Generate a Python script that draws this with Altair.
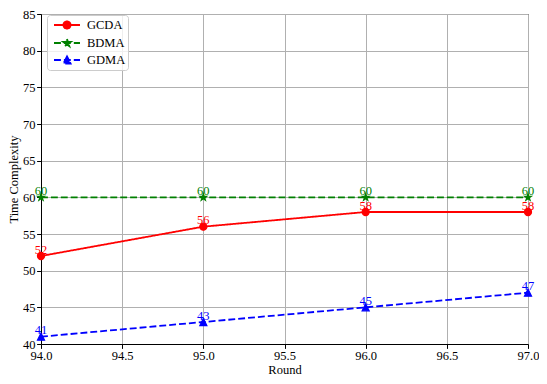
import math
import altair as alt
import pandas as pd

rounds = [94, 95, 96, 97]
series = ["GCDA", "BDMA", "GDMA"]
gcda = [52, 56, 58, 58]
bdma = [60, 60, 60, 60]
gdma = [41, 43, 45, 47]
values = {"GCDA": gcda, "BDMA": bdma, "GDMA": gdma}
colors = ["#ff0000", "#008000", "#0000ff"]
x_ticks = [94.0, 94.5, 95.0, 95.5, 96.0, 96.5, 97.0]
y_ticks = [40, 45, 50, 55, 60, 65, 70, 75, 80, 85]

FONT = "Liberation Serif"
FS = 12.5
DASH = [6.9, 3.0]
dashes = [[1, 0], DASH, DASH]


def star_path(r_out, r_in):
    pts = []
    for i in range(10):
        r = r_out if i % 2 == 0 else r_in
        a = -math.pi / 2 + i * math.pi / 5
        pts.append(f"{r * math.cos(a):.3f},{r * math.sin(a):.3f}")
    return "M" + "L".join(pts) + "Z"


def circle_path(r):
    return f"M{r},0A{r},{r},0,1,1,{-r},0A{r},{r},0,1,1,{r},0Z"


def tri_path(r):
    return f"M0,{-r}L{-r},{r}L{r},{r}Z"


marker_paths = ["circle", star_path(1, 0.382), tri_path(1)]

# legend symbols: line + marker (units: sqrt(size)/2 px)
L = 13 / 7.0
m = 3.6 / 7.0
line_part = f"M{-L:.3f},0L{L:.3f},0"
legend_paths = [
    line_part + circle_path(round(m, 3)),
    line_part + star_path(m * 1.1, m * 1.1 * 0.382),
    line_part + tri_path(round(m, 3)),
]

rows = []
for s in series:
    for r, v in zip(rounds, values[s]):
        rows.append({"series": s, "round": r, "value": v, "label": str(v)})
df = pd.DataFrame(rows)

x_enc = alt.X(
    "round:Q",
    scale=alt.Scale(domain=[94, 97], nice=False, zero=False),
    axis=alt.Axis(values=x_ticks, format=".1f", title="Round"),
)
y_enc = alt.Y(
    "value:Q",
    scale=alt.Scale(domain=[40, 85], nice=False, zero=False),
    axis=alt.Axis(values=y_ticks, format="d", title="Time Complexity"),
)

layers = []
for s, c, d, shp in zip(series, colors, dashes, marker_paths):
    base = alt.Chart(df).transform_filter(alt.datum.series == s)
    layers.append(
        base.mark_line(color=c, strokeWidth=1.8, strokeDash=d).encode(x=x_enc, y=y_enc)
    )
    layers.append(
        base.mark_point(
            filled=True, color=c, stroke=c, strokeWidth=1.2, shape=shp, size=50, opacity=1
        ).encode(x=x_enc, y=y_enc)
    )
for s, c in zip(series, colors):
    base = alt.Chart(df).transform_filter(alt.datum.series == s)
    layers.append(
        base.mark_text(
            color=c, font=FONT, fontSize=FS, align="center", baseline="alphabetic", dy=-2.5
        ).encode(x=x_enc, y=y_enc, text="label:N")
    )

legend_layer = (
    alt.Chart(df)
    .transform_filter("false")
    .mark_point(filled=True, opacity=1, strokeWidth=1.8)
    .encode(
        color=alt.Color("series:N", title=None, scale=alt.Scale(domain=series, range=colors)),
        stroke=alt.Stroke("series:N", title=None, scale=alt.Scale(domain=series, range=colors)),
        shape=alt.Shape("series:N", title=None, scale=alt.Scale(domain=series, range=legend_paths)),
        strokeDash=alt.StrokeDash("series:N", title=None, scale=alt.Scale(domain=series, range=dashes)),
    )
)
layers.append(legend_layer)

chart = (
    alt.layer(*layers)
    .properties(
        width=487,
        height=330,
        autosize=alt.AutoSizeParams(type="none"),
        padding={"left": 33, "top": 6, "right": 11, "bottom": 32},
    )
    .configure_view(stroke="black", strokeWidth=1)
    .configure_axis(
        grid=True,
        gridColor="#b0b0b0",
        gridWidth=1,
        domainColor="black",
        domainWidth=1,
        tickColor="black",
        tickSize=4.4,
        tickWidth=1,
        labelFont=FONT,
        labelFontSize=FS,
        labelColor="black",
        labelFlush=False,
        labelOverlap=False,
        labelPadding=1.5,
        titleFont=FONT,
        titleFontSize=FS,
        titleFontWeight="normal",
        titleColor="black",
    )
    .configure_axisX(titlePadding=1)
    .configure_axisY(titlePadding=2)
    .configure_legend(
        orient="none",
        legendX=6,
        legendY=1,
        padding=2,
        fillColor="rgba(255,255,255,0.8)",
        strokeColor="#cccccc",
        cornerRadius=3,
        labelFont=FONT,
        labelFontSize=FS,
        labelColor="black",
        labelOffset=12,
        symbolOffset=10,
        symbolSize=196,
        symbolStrokeWidth=1.8,
        rowPadding=2,
    )
)

chart.save("out.html", embed_options={"renderer": "svg", "actions": False})
